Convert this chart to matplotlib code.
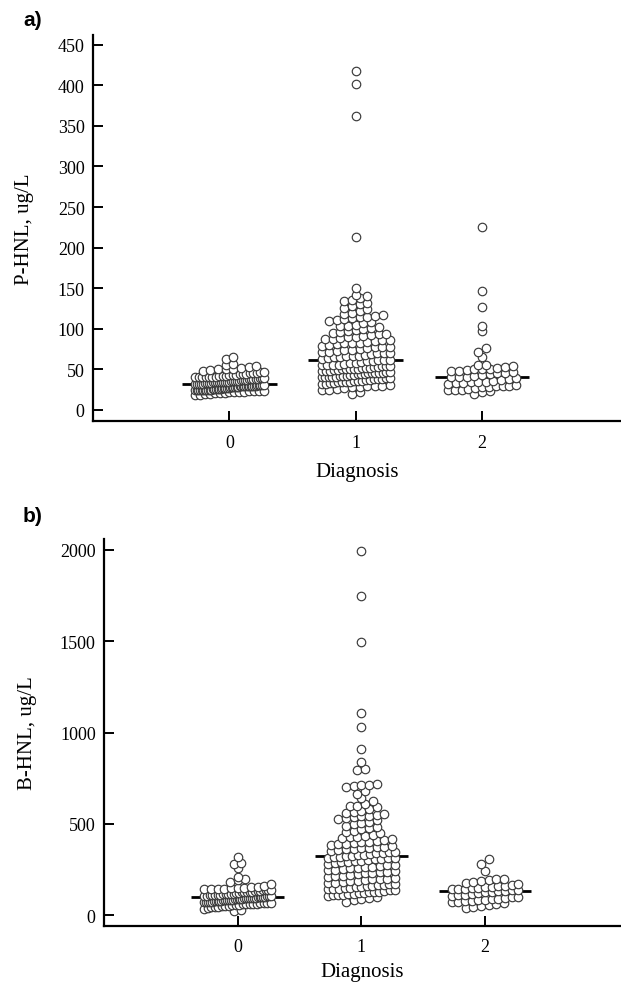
import numpy as np
import matplotlib
matplotlib.use("Agg")
import matplotlib.pyplot as plt

categories = [0, 1, 2]
xtick_labels = ["0", "1", "2"]

p_hnl_0 = [18, 19, 20, 20, 21, 21, 22, 22, 22, 23, 23, 23, 24, 24, 24, 24, 25, 25, 25, 25,
           26, 26, 26, 26, 27, 27, 27, 27, 28, 28, 28, 28, 29, 29, 29, 29, 30, 30, 30, 30,
           31, 31, 31, 31, 32, 32, 32, 33, 33, 33, 34, 34, 34, 35, 35, 35, 36, 36, 36, 37,
           37, 37, 38, 38, 38, 39, 39, 40, 40, 40, 41, 41, 42, 42, 43, 43, 44, 44, 45, 46,
           47, 48, 50, 51, 52, 53, 55, 57, 63, 65,
           21, 22, 23, 24, 25, 26, 27, 28, 29, 30, 31, 32, 33, 34, 35, 36, 37, 38, 39, 40,
           41, 42, 43, 44, 24, 26, 28, 30, 32, 34, 36, 38, 45, 47, 49, 50, 54]
p_hnl_1 = [20, 22, 24, 25, 26, 27, 28, 29, 30, 30, 31, 32, 33, 33, 34, 35, 35, 36, 36, 37,
           37, 38, 38, 39, 39, 40, 40, 41, 41, 42, 42, 43, 43, 44, 44, 45, 45, 46, 46, 47,
           47, 48, 48, 49, 49, 50, 50, 51, 51, 52, 52, 53, 53, 54, 54, 55, 55, 56, 57, 58,
           58, 59, 60, 60, 61, 62, 62, 63, 64, 65, 65, 66, 67, 68, 69, 70, 70, 71, 72, 73,
           74, 75, 76, 77, 78, 79, 80, 81, 82, 83, 84, 85, 86, 87, 88, 89, 90, 91, 92, 94,
           95, 96, 98, 100, 101, 103, 105, 107, 110, 112, 113, 115, 116, 118, 120, 125, 128,
           130, 132, 135, 138, 140, 142, 150, 213, 362, 402, 418,
           28, 32, 34, 36, 38, 40, 42, 44, 46, 48, 50, 52, 54, 56,
           66, 70, 74, 78, 82, 86, 90, 93, 97, 102, 104, 108, 111, 114, 117, 122, 126, 134]
p_hnl_2 = [20, 22, 23, 24, 25, 25, 26, 27, 28, 28, 29, 30, 30, 31, 32, 33, 33, 34, 35, 35,
           36, 37, 38, 39, 40, 40, 41, 42, 43, 44, 45, 46, 47, 48, 48, 49, 50, 50, 51, 52,
           53, 54, 55, 55, 65, 72, 76, 97, 103, 127, 146, 225]

b_hnl_0 = [20, 30, 35, 40, 42, 45, 48, 50, 52, 55, 57, 58, 60, 62, 63, 65, 66, 68, 70, 71,
           72, 74, 75, 76, 78, 79, 80, 81, 82, 84, 85, 86, 88, 89, 90, 91, 92, 93, 94, 95,
           96, 97, 98, 99, 100, 101, 102, 104, 105, 106, 108, 110, 111, 112, 114, 115, 117,
           118, 120, 122, 124, 125, 127, 128, 130, 132, 134, 135, 137, 138, 140, 142, 144,
           145, 148, 150, 152, 155, 160, 170, 180, 190, 200, 210, 255, 280, 285, 318,
           46, 54, 61, 67, 73, 77, 83, 87, 93, 103, 109, 116, 126, 136, 146]
b_hnl_1 = [1995, 1748, 1496, 1107, 1030, 912, 838, 800, 795, 720, 715, 710, 705, 700, 680,
           665, 625, 610, 600, 590, 580, 570, 560, 555, 545, 540, 535, 530, 520, 510, 500,
           490, 480, 470, 460, 450, 440, 430, 420, 415, 410, 405, 400, 395, 390, 385, 380,
           375, 370, 365, 360, 355, 350, 345, 340, 335, 330, 325, 322, 320, 318, 315, 310,
           305, 300, 295, 290, 285, 280, 275, 270, 265, 260, 255, 250, 245, 240, 235, 230,
           225, 220, 215, 210, 205, 200, 195, 190, 185, 180, 178, 175, 172, 170, 165, 160,
           158, 155, 150, 148, 145, 140, 138, 135, 130, 128, 125, 122, 120, 118, 115, 112,
           110, 105, 100, 95, 90, 80, 70,
           108, 125, 142, 152, 163, 188, 198, 212, 228, 238, 248, 262, 272, 288, 298, 308,
           312, 328, 338, 348, 362, 372, 388, 398, 425, 435, 455, 475, 505, 525, 550, 565,
           595, 640]
b_hnl_2 = [40, 45, 50, 55, 60, 65, 70, 72, 75, 78, 80, 85, 88, 90, 95, 98, 100, 105, 108,
           110, 115, 120, 125, 128, 130, 132, 135, 138, 140, 142, 145, 148, 150, 152, 155,
           158, 160, 165, 170, 175, 180, 185, 190, 195, 200, 240, 280, 305]

W, H = 621, 987
fig = plt.figure(figsize=(W / 100, H / 100), dpi=100)

SERIF = ["Liberation Serif", "DejaVu Serif"]
MARKER_PX = 8.5


def make_axes(left, right, top, bottom):
    return fig.add_axes([left / W, 1 - bottom / H, (right - left) / W, (bottom - top) / H])


def swarm(ax, groups, xlim, ylim, maxhalf):
    pos = ax.get_position()
    ax_w_px = pos.width * W
    ax_h_px = pos.height * H
    dy = MARKER_PX * 0.75 * (ylim[1] - ylim[0]) / ax_h_px
    dx = MARKER_PX * 0.9 * (xlim[1] - xlim[0]) / ax_w_px
    for cat, vals in zip(categories, groups):
        v = np.sort(np.asarray(vals, dtype=float))
        bins = np.floor(v / dy).astype(int)
        xs, ys = [], []
        for b in np.unique(bins):
            m = v[bins == b]
            n = len(m)
            sp = dx
            if n > 1 and (n - 1) * dx > 2 * maxhalf:
                sp = 2 * maxhalf / (n - 1)
            xs.extend(cat + (np.arange(n) - (n - 1) / 2) * sp)
            ys.extend(m)
        ax.scatter(xs, ys, s=(MARKER_PX * 72 / 100) ** 2, facecolor="white",
                   edgecolor="#3a3a3a", linewidth=0.85, zorder=3)
        med = np.median(v)
        ax.plot([cat - 0.375, cat + 0.375], [med, med], color="black", lw=2.0,
                zorder=2, solid_capstyle="butt")


def style(ax, xlim, ylim, yticks, ylabel, ylab_x, xlabpad):
    ax.set_xlim(*xlim)
    ax.set_ylim(*ylim)
    for s in ["top", "right"]:
        ax.spines[s].set_visible(False)
    for s in ["left", "bottom"]:
        ax.spines[s].set_linewidth(1.6)
    ax.set_xticks(categories)
    ax.set_xticklabels(xtick_labels)
    ax.set_yticks(yticks)
    ax.tick_params(axis="both", direction="in", width=1.4, labelsize=13, pad=6)
    ax.tick_params(axis="y", length=7)
    ax.tick_params(axis="x", length=7, pad=9)
    for lab in ax.get_xticklabels() + ax.get_yticklabels():
        lab.set_family(SERIF)
    ax.set_xlabel("Diagnosis", family=SERIF, fontsize=15, labelpad=xlabpad)
    ax.set_ylabel(ylabel, family=SERIF, fontsize=15)
    ax.yaxis.set_label_coords(ylab_x, 0.5)


# Panel a
xlim_a = (-1.08, 3.1)
ylim_a = (-13.6, 462)
ax1 = make_axes(93, 621, 36, 422)
style(ax1, xlim_a, ylim_a, np.arange(0, 451, 50), "P-HNL, ug/L", -0.112, 8)
swarm(ax1, [p_hnl_0, p_hnl_1, p_hnl_2], xlim_a, ylim_a, 0.27)

# Panel b
xlim_b = (-1.08, 3.1)
ylim_b = (-60, 2060)
ax2 = make_axes(104, 621, 540, 927)
style(ax2, xlim_b, ylim_b, np.arange(0, 2001, 500), "B-HNL, ug/L", -0.13, 5)
swarm(ax2, [b_hnl_0, b_hnl_1, b_hnl_2], xlim_b, ylim_b, 0.27)

fig.text(23 / W, 1 - 11 / H, "a)", family=["Liberation Sans", "DejaVu Sans"],
         fontweight="bold", fontsize=15, va="top", ha="left")
fig.text(23 / W, 1 - 507 / H, "b)", family=["Liberation Sans", "DejaVu Sans"],
         fontweight="bold", fontsize=15, va="top", ha="left")

fig.savefig("out.png", dpi=100)
